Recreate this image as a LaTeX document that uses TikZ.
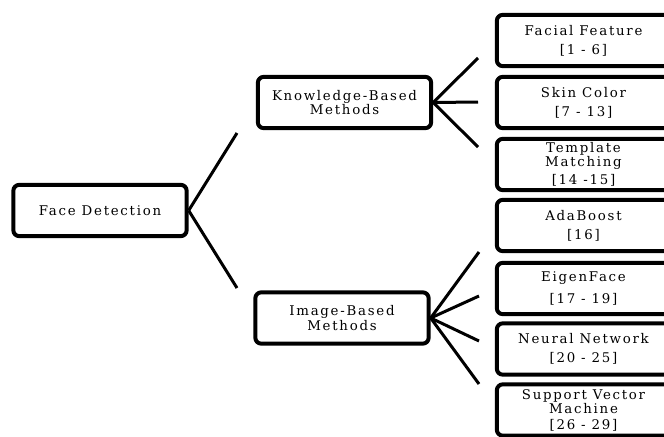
\documentclass[tikz,border=0pt]{standalone}
\usepackage{fontspec}
\setmainfont[LetterSpace=13]{DejaVu Serif}
\tikzset{
  methodbox/.style={draw, line width=3pt, rounded corners=4.5pt, minimum width=130pt, minimum height=38.5pt, inner sep=0pt, align=center, font=\fontsize{10}{9.4}\selectfont},
  branch/.style={line width=2.25pt},
}
\begin{document}
\begin{tikzpicture}[x=0.75pt,y=0.75pt,yscale=-1,xscale=1]
\clip (0,0) rectangle (664,436);

% Root
\node [methodbox] (fd) at (100,210.5) {Face Detection};
% Middle level
\node [methodbox] (kb) at (344.5,102.5) {Knowledge-Based\\Methods};
\node [methodbox] (ib) at (342,318) {Image-Based\\Methods};

% Leaves
\node [methodbox] (ff) at (583.5,40.5) {Facial Feature\\[5pt][1 - 6]};
\node [methodbox] (sc) at (583.5,102.5) {Skin Color\\[5pt][7 - 13]};
\node [methodbox] (tm) at (583.5,164.5) {Template\\Matching\\[2.5pt][14 -15]};
\node [methodbox] (ab) at (583.5,225.5) {AdaBoost\\[5pt][16]};
\node [methodbox] (ef) at (583.5,288.5) {EigenFace\\[5pt][17 - 19]};
\node [methodbox] (nn) at (583.5,349) {Neural Network\\[5pt][20 - 25]};
\node [methodbox] (sv) at (583.5,410) {Support Vector\\Machine\\[2.5pt][26 - 29]};

% Free ends of the branches
\coordinate (fdUp) at (237,133);
\coordinate (fdDown) at (237,288);
\coordinate (kbA) at (478,58);
\coordinate (kbB) at (478,102);
\coordinate (kbC) at (478,147);
\coordinate (ibA) at (479,252);
\coordinate (ibB) at (479,296);
\coordinate (ibC) at (479,341);
\coordinate (ibD) at (479,384);

% Branches
\draw [branch] (fd.east) -- (fdUp);
\draw [branch] (fd.east) -- (fdDown);
\draw [branch] (kb.east) -- (kbA);
\draw [branch] (kb.east) -- (kbB);
\draw [branch] (kb.east) -- (kbC);
\draw [branch] (ib.east) -- (ibA);
\draw [branch] (ib.east) -- (ibB);
\draw [branch] (ib.east) -- (ibC);
\draw [branch] (ib.east) -- (ibD);

\end{tikzpicture}
\end{document}
